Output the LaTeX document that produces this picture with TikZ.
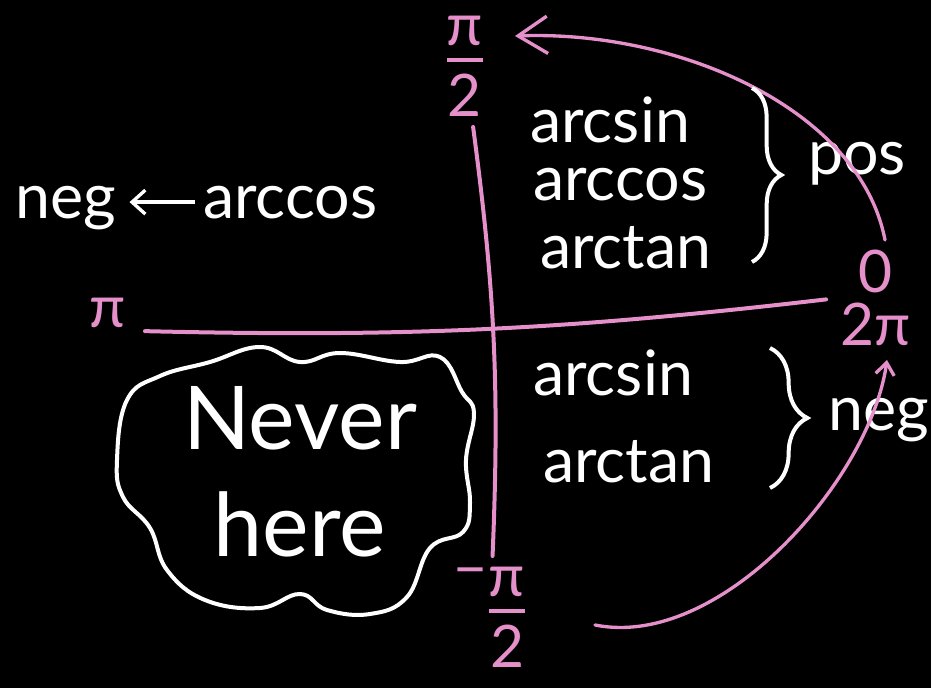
\documentclass[tikz,border=0pt]{standalone}
\usepackage{amsmath}
\usepackage{fontspec}
\setmainfont{Lato}
\usetikzlibrary{arrows.meta,decorations.pathreplacing}
\definecolor{chalkpink}{RGB}{229,143,203}
\newcommand{\chalkfrac}[2]{$\genfrac{}{}{3pt}{0}{\mbox{#1}}{\mbox{#2}}$}

\begin{document}
\begin{tikzpicture}[
        x=0.75pt, y=-0.75pt,
        word/.style={
            text=white,
            inner sep=0pt,
            font=\fontsize{47}{60}\selectfont
        },
        tick/.style={
            text=chalkpink,
            inner sep=2pt,
            align=center,
            font=\fontsize{44}{40}\selectfont
        },
        axis/.style={draw=chalkpink, line width=3pt, line cap=round},
        sweep/.style={draw=chalkpink, line width=2.5pt, line cap=round},
        curly/.style={draw=white, line width=3pt, decorate,
            decoration={brace, amplitude=#1}}
    ]

        \useasboundingbox (0,0) rectangle (931,688);
        \clip (0,0) rectangle (931,688);
        \fill[black] (0,0) rectangle (931,688);

        \node[tick] (halfpi) at (465,66)
        {\chalkfrac{π}{2}};

        \node[tick] (mhalfpi) at (490,617)
        {\raisebox{22pt}{−}\chalkfrac{π}{2}};

        \node[tick] (pilabel) at (108,313)
        {π};

        \node[tick] (zero2pi) at (876,298)
        {0\\2π};

        \node[word, anchor=base west] (sinpos) at (530,143)
        {arcsin};

        \node[word, anchor=base west] (cospos) at (533,200)
        {arccos};

        \node[word, anchor=base west] (tanpos) at (540,268)
        {arctan};

        \node[word, anchor=base west] (pos) at (808,175)
        {pos};

        \node[word, anchor=base west] (negcos) at (15,218)
        {neg};

        \node[word, anchor=base west] (cosneg) at (203,218)
        {arccos};

        \node[word, anchor=base west] (sinneg) at (533,395)
        {arcsin};

        \node[word, anchor=base west] (tanneg) at (543,482)
        {arctan};

        \node[word, anchor=base west] (negright) at (828,430)
        {neg};

        \node[word, align=center, font=\fontsize{66}{80}\selectfont] (never) at (300,472)
        {Never\\here};

        \coordinate (q1start) at (885,240);
        \coordinate (q1end) at (515,36);
        \coordinate (q4start) at (595,625);
        \coordinate (q4end) at (887,360);

        \draw[axis, shorten <=6pt, shorten >=6pt] (halfpi) to[bend left=5] (mhalfpi);
        \draw[axis, shorten <=12pt, shorten >=9pt] (pilabel.south east) to[bend right=4] (zero2pi.west);

        \draw[sweep, -{Straight Barb[length=22pt, width=28pt, line width=2.5pt]}]
            (q1start) .. controls (860,110) and (680,30) .. (q1end);
        \draw[sweep, -{Straight Barb[length=9pt, width=14pt, line width=2.5pt]}]
            (q4start) .. controls (720,650) and (870,480) .. (q4end);

        \draw[white, line width=2.5pt, shorten <=6pt, shorten >=10pt,
            -{Straight Barb[length=10pt, width=18pt, line width=2.5pt]}]
            (cosneg.west) -- (cosneg.west -| negcos.east);

        \draw[curly=22pt] (752,88) -- (752,262);
        \draw[curly=28pt] (770,348) -- (770,488);

        \draw[white, line width=3pt, line join=round]
            plot[smooth cycle, tension=0.7] coordinates {
                (127,400) (160,376) (210,362) (260,347) (300,362)
                (340,353) (400,362) (440,357) (462,392) (474,413)
                (466,460) (470,503) (463,532) (430,548)
                (407,597) (370,614) (327,610) (300,594) (260,608)
                (205,600) (167,570) (150,528) (123,497) (117,460)};

    \end{tikzpicture}
\end{document}
